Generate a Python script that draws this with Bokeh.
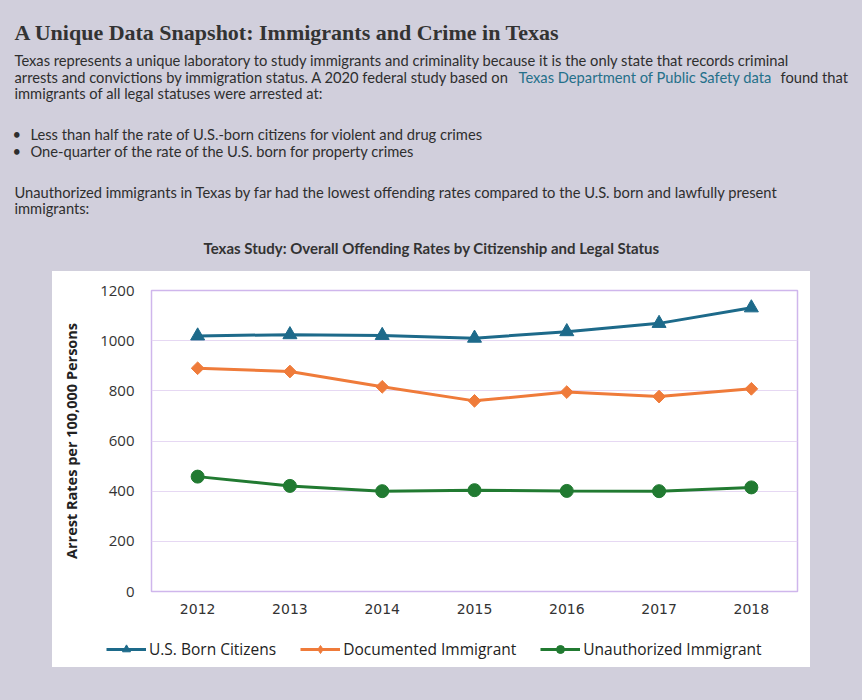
import math
from bokeh.plotting import figure
from bokeh.layouts import column, row
from bokeh.models import (Label, FixedTicker, Legend, LegendItem, Spacer,
                          ColumnDataSource, FactorRange, Range1d)
from bokeh.embed import file_html
from bokeh.resources import INLINE

# ---------------- data ----------------
years = ["2012", "2013", "2014", "2015", "2016", "2017", "2018"]
us_born = [1019, 1024, 1021, 1010, 1036, 1069, 1131]
documented = [890, 877, 816, 760, 795, 777, 808]
unauthorized = [458, 421, 400, 404, 401, 400, 415]
y_ticks = [0, 200, 400, 600, 800, 1000, 1200]

series_names = ["U.S. Born Citizens", "Documented Immigrant", "Unauthorized Immigrant"]

heading = "A Unique Data Snapshot: Immigrants and Crime in Texas"
para1 = ["Texas represents a unique laboratory to study immigrants and criminality because it is the only state that records criminal",
         "arrests and convictions by immigration status. A 2020 federal study based on",
         "immigrants of all legal statuses were arrested at:"]
link_text = "Texas Department of Public Safety data"
after_link = "found that"
bullets = ["Less than half the rate of U.S.-born citizens for violent and drug crimes",
           "One-quarter of the rate of the U.S. born for property crimes"]
para2 = ["Unauthorized immigrants in Texas by far had the lowest offending rates compared to the U.S. born and lawfully present",
         "immigrants:"]
chart_title = "Texas Study: Overall Offending Rates by Citizenship and Legal Status"
y_label = "Arrest Rates per 100,000 Persons"

# ---------------- style ----------------
BG = "#d1cfdc"
BLUE = "#1d6a8a"
ORANGE = "#ef7b3a"
GREEN = "#217a31"
GRID = "#e6d8f3"
OUTLINE = "#cfb6ec"
TXT = "#2e2e2e"
LINK = "#25708a"

W = 862
TOP_H = 271
PANEL_X = 52
PANEL_W = 758
CHART_H = 359
LEG_H = 37
BOTTOM_H = 700 - TOP_H - CHART_H - LEG_H
RIGHT_W = W - PANEL_X - PANEL_W

# ---------------- text block (figure used as a canvas) ----------------
t = figure(width=W, height=TOP_H, output_backend="svg", toolbar_location=None,
           x_range=Range1d(0, W), y_range=Range1d(TOP_H, 0),
           x_axis_location=None, y_axis_location=None,
           min_border=0, background_fill_color=BG, border_fill_color=BG)
t.grid.visible = False
t.outline_line_color = None
t.title.visible = False

BODY = "14.7px"


def add_text(x, y, text, size=BODY, font="Lato", color=TXT, style="normal", align="left"):
    t.add_layout(Label(x=x, y=y, text=text, text_font=font, text_font_size=size,
                       text_color=color, text_font_style=style, text_align=align,
                       text_baseline="alphabetic"))


add_text(14, 32, heading, size="22px", font="Liberation Serif", style="bold", color="#333333")
add_text(14, 59.5, para1[0])
add_text(14, 76, para1[1])
add_text(518, 76, link_text, color=LINK)
add_text(780, 76, after_link)
add_text(14, 92.5, para1[2])
for yb, b in zip([133.3, 150.7], bullets):
    add_text(12, yb, "\u2022")
    add_text(30, yb, b)
add_text(14, 191, para2[0])
add_text(14, 207.7, para2[1])
add_text(431, 247, chart_title, size="15px", style="bold", color="#333333", align="center")

# ---------------- chart ----------------
src = ColumnDataSource(dict(year=years, us=us_born, doc=documented, un=unauthorized))

p = figure(width=PANEL_W, height=CHART_H, output_backend="svg", toolbar_location=None,
           x_range=FactorRange(factors=years, range_padding=0),
           y_range=Range1d(0, 1200),
           min_border_left=99, min_border_right=13,
           min_border_top=19, min_border_bottom=39,
           background_fill_color="white", border_fill_color="white")
p.title.visible = False

p.outline_line_color = OUTLINE
p.outline_line_width = 1.5
p.xgrid.grid_line_color = None
p.ygrid.grid_line_color = GRID
p.ygrid.grid_line_width = 1.2

p.yaxis.ticker = FixedTicker(ticks=y_ticks)
p.yaxis.axis_line_color = None
p.yaxis.major_tick_line_color = None
p.yaxis.minor_tick_line_color = None
p.yaxis.major_tick_out = 0
p.yaxis.major_tick_in = 0
p.yaxis.minor_tick_out = 0
p.yaxis.major_label_standoff = 17
p.yaxis.major_label_text_font = "Open Sans"
p.yaxis.major_label_text_font_size = "15px"
p.yaxis.major_label_text_color = "#333333"
p.yaxis.axis_label = y_label
p.yaxis.axis_label_text_font = "Open Sans"
p.yaxis.axis_label_text_font_style = "bold"
p.yaxis.axis_label_text_font_size = "14.5px"
p.yaxis.axis_label_text_color = "#222222"
p.yaxis.axis_label_standoff = 16

p.xaxis.axis_line_color = None
p.xaxis.major_tick_line_color = None
p.xaxis.minor_tick_line_color = None
p.xaxis.major_tick_out = 0
p.xaxis.major_tick_in = 0
p.xaxis.major_label_standoff = 12
p.xaxis.major_label_text_font = "DejaVu Sans"
p.xaxis.major_label_text_font_size = "14px"
p.xaxis.major_label_text_color = "#333333"


def draw_series(fig, doc_marker="square", doc_angle=math.pi / 4, doc_size=9):
    rs = []
    rs.append((fig.line("year", "us", source=src, color=BLUE, line_width=3),
               fig.scatter("year", "us", source=src, marker="triangle", size=14, color=BLUE)))
    rs.append((fig.line("year", "doc", source=src, color=ORANGE, line_width=3),
               fig.scatter("year", "doc", source=src, marker=doc_marker, angle=doc_angle,
                           size=doc_size, color=ORANGE)))
    rs.append((fig.line("year", "un", source=src, color=GREEN, line_width=3),
               fig.scatter("year", "un", source=src, marker="circle", size=13, color=GREEN)))
    return rs


draw_series(p)

# ---------------- legend strip (same series; only the legend is in view) ----------------
lg = figure(width=PANEL_W, height=LEG_H, output_backend="svg", toolbar_location=None,
            x_range=FactorRange(factors=years), y_range=Range1d(5000, 6000),
            x_axis_location=None, y_axis_location=None,
            min_border=0, background_fill_color="white", border_fill_color="white")
lg.grid.visible = False
lg.outline_line_color = None
lg.title.visible = False
lr = draw_series(lg, doc_marker="diamond", doc_angle=0, doc_size=14)

legend = Legend(items=[LegendItem(label=series_names[i], renderers=list(lr[i])) for i in range(3)],
                orientation="horizontal", location=(54, 7),
                glyph_width=40, glyph_height=20, label_standoff=3, spacing=24,
                padding=0, margin=0, border_line_color=None,
                background_fill_alpha=0,
                label_text_font="Open Sans", label_text_font_size="15.5px",
                label_text_color="#222222")
lg.add_layout(legend, "center")


def panel_row(fig, h):
    return row(Spacer(width=PANEL_X, height=h, styles={"background-color": BG}),
               fig,
               Spacer(width=RIGHT_W, height=h, styles={"background-color": BG}),
               spacing=0, styles={"background-color": "white"})


layout = column(t,
                panel_row(p, CHART_H),
                panel_row(lg, LEG_H),
                Spacer(width=W, height=BOTTOM_H),
                styles={"background-color": BG}, spacing=0)

try:
    from bokeh.models import GlobalInlineStyleSheet
    layout.stylesheets = [GlobalInlineStyleSheet(css="body { background-color: %s; }" % BG)]
except Exception:
    pass

open("out.html", "w").write(file_html(layout, INLINE))
